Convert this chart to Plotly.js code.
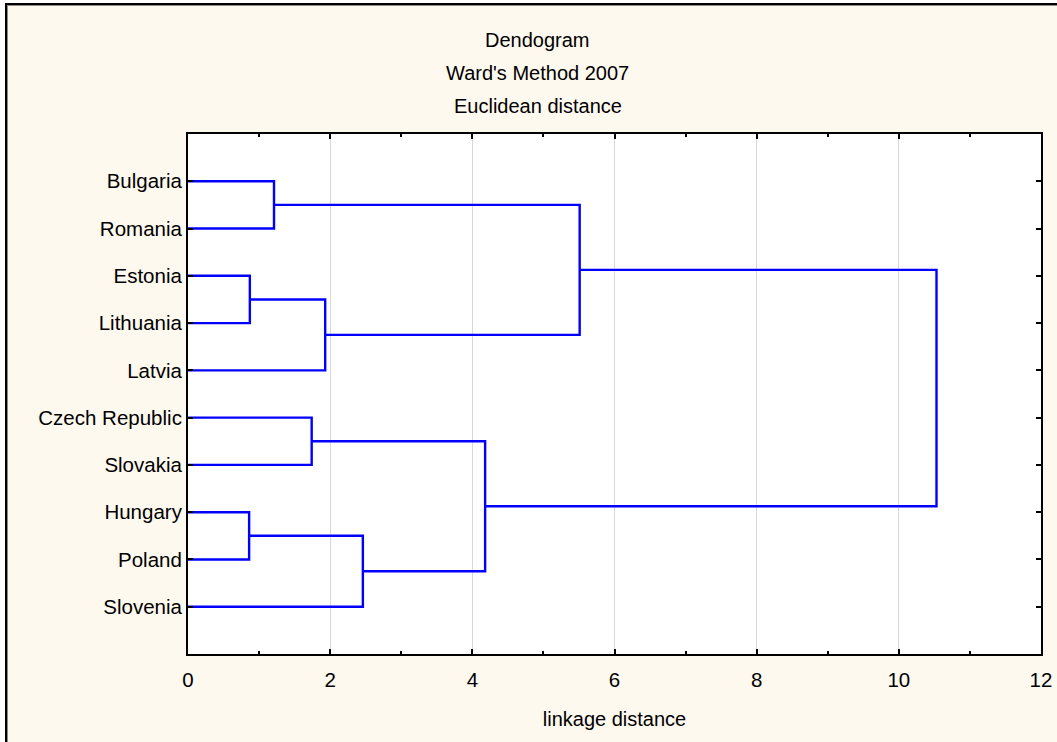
<!DOCTYPE html>
<html>
<head>
<meta charset="utf-8">
<script src="https://cdn.plot.ly/plotly-3.0.1.min.js"></script>
<style>
  html, body { margin:0; padding:0; background:#ffffff; width:1057px; height:742px; overflow:hidden; }
  #frame { position:absolute; left:5px; top:3px; width:1052px; height:739px; border-top:2px solid #000; border-left:2px solid #000; box-sizing:border-box; background:#FEF9EF; }
  #inner { position:absolute; left:0; top:0; right:0; bottom:0; border-top:1px solid #8a8a8a; border-left:1px solid #8a8a8a; }
  #plot { position:absolute; left:8px; top:6px; width:1049px; height:736px; }
</style>
</head>
<body>
<div id="frame"><div id="inner"></div></div>
<div id="plot"></div>
<script>
// Leaves, top to bottom
const countries = ["Bulgaria", "Romania", "Estonia", "Lithuania", "Latvia",
                   "Czech Republic", "Slovakia", "Hungary", "Poland", "Slovenia"];
// Linkage: new cluster ids start at 10 (scipy style)
const mergeA = [0, 2, 11, 5, 7, 14, 13, 10, 17];
const mergeB = [1, 3, 4, 6, 8, 9, 15, 12, 16];
const mergeHeight = [1.21, 0.87, 1.93, 1.74, 0.86, 2.46, 4.18, 5.51, 10.53];
const titleLines = ["Dendogram", "Ward's Method 2007", "Euclidean distance"];
const xTitle = "linkage distance";

// Build dendrogram segments in data space
const n = countries.length;
const pos = {}, hgt = {};
for (let i = 0; i < n; i++) { pos[i] = i; hgt[i] = 0; }
const xs = [], ys = [];
for (let k = 0; k < mergeA.length; k++) {
  const a = mergeA[k], b = mergeB[k], h = mergeHeight[k];
  xs.push(hgt[a], h, h, hgt[b], null);
  ys.push(pos[a], pos[a], pos[b], pos[b], null);
  const id = n + k;
  pos[id] = (pos[a] + pos[b]) / 2;
  hgt[id] = h;
}

const font = "Arial, 'Liberation Sans', sans-serif";
const trace = {
  x: xs, y: ys, type: "scatter", mode: "lines",
  line: { color: "#0000FF", width: 2.4 },
  hoverinfo: "skip", showlegend: false, connectgaps: false
};

const annotations = titleLines.map((t, i) => ({
  text: t, xref: "paper", yref: "paper", x: (537.5 - 188) / 853, y: 1 + (94 - 33 * i) / 520,
  showarrow: false, xanchor: "center", yanchor: "middle",
  font: { family: font, size: 20, color: "#000" }
}));

const layout = {
  width: 1049, height: 736,
  margin: { l: 180, r: 16, t: 128, b: 88 },
  paper_bgcolor: "rgba(0,0,0,0)",
  plot_bgcolor: "#ffffff",
  showlegend: false,
  annotations: annotations,
  xaxis: {
    range: [0, 12], tick0: 0, dtick: 2,
    ticks: "inside", ticklen: 5, tickwidth: 2, tickcolor: "#000",
    showline: true, linecolor: "#000", linewidth: 2, mirror: "ticks",
    showgrid: true, gridcolor: "#d8d8d8", gridwidth: 1, zeroline: false,
    minor: { dtick: 1, ticks: "inside", ticklen: 3, tickwidth: 2, tickcolor: "#000", showgrid: false },
    tickfont: { family: font, size: 20.5, color: "#000" },
    ticklabelstandoff: 6,
    title: { text: xTitle, font: { family: font, size: 20, color: "#000" }, standoff: 22 },
    fixedrange: true
  },
  yaxis: {
    range: [10, -1],
    tickvals: countries.map((c, i) => i), ticktext: countries,
    ticks: "inside", ticklen: 5, tickwidth: 2, tickcolor: "#000",
    showline: true, linecolor: "#000", linewidth: 2, mirror: "ticks",
    showgrid: false, zeroline: false,
    tickfont: { family: font, size: 20.5, color: "#000" },
    fixedrange: true
  }
};

Plotly.newPlot("plot", [trace], layout, { displayModeBar: false, staticPlot: true });
</script>
</body>
</html>
